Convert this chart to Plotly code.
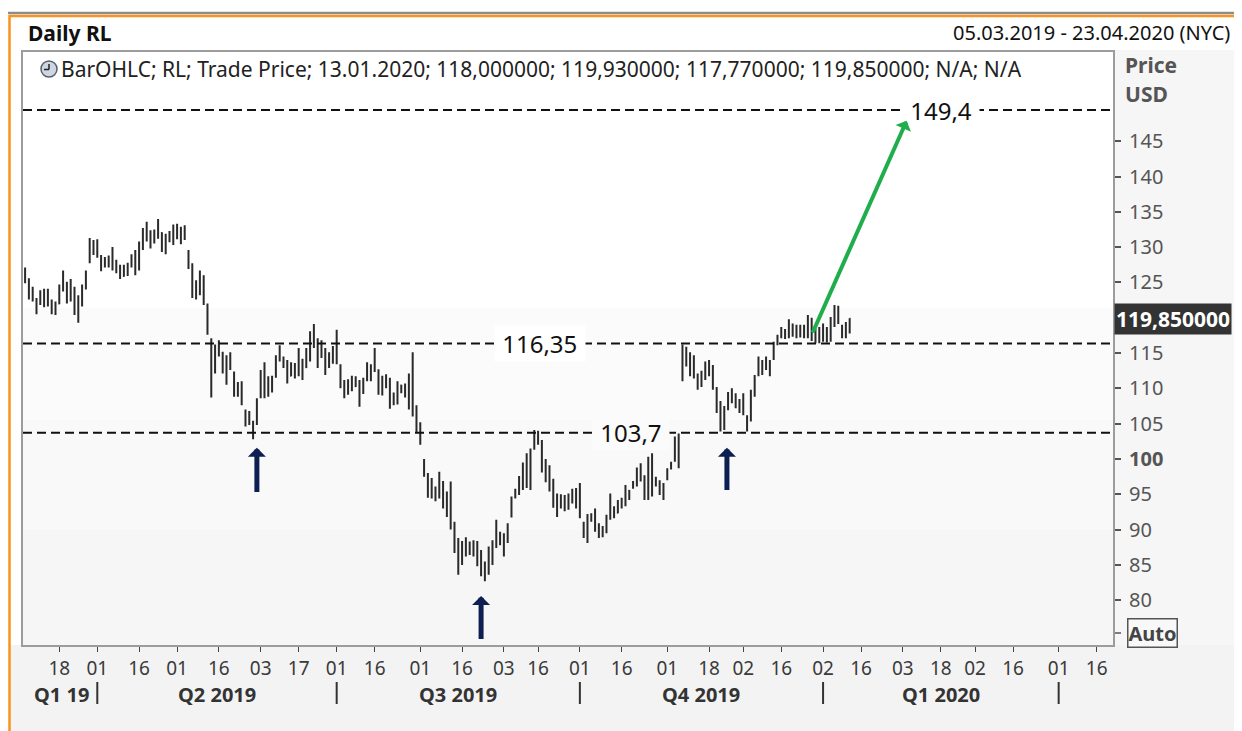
import pandas as pd
import plotly.graph_objects as go

# ---------------- data ----------------
HOLIDAYS = ['2019-04-19', '2019-05-27', '2019-07-04', '2019-09-02', '2019-11-28',
            '2019-12-25', '2020-01-01', '2020-01-20', '2020-02-17', '2020-04-10']
trading_days = [d for d in pd.bdate_range('2019-03-05', '2020-04-23')
                if d.strftime('%Y-%m-%d') not in HOLIDAYS]
N_BARS = 218
dates = [d.strftime('%Y-%m-%d') for d in trading_days[:N_BARS]]

opens = [126.8,125.3,123.1,122.5,122.0,123.6,122.1,122.4,121.0,122.0,
         124.2,124.8,122.6,124.0,121.2,122.9,124.6,128.0,130.8,129.4,
         128.7,127.4,128.3,127.4,127.9,126.4,125.9,127.0,127.3,128.6,
         129.1,130.2,132.5,131.0,131.8,131.4,132.0,129.5,131.2,130.8,
         132.7,131.6,132.5,129.4,127.0,123.2,125.0,123.8,121.8,116.5,
         112.4,115.5,114.8,112.6,113.8,112.0,109.3,110.6,106.8,105.1,
         105.0,105.0,108.9,112.0,109.2,111.2,111.8,114.5,114.3,113.5,
         111.8,113.2,112.0,114.0,113.0,114.2,117.8,116.5,114.5,115.5,
         113.1,114.6,117.8,113.0,110.8,109.3,110.8,110.3,111.0,109.5,
         111.3,113.2,112.5,112.4,109.4,111.6,110.5,107.8,108.8,110.4,
         109.5,110.6,114.5,107.0,104.5,99.6,97.6,95.0,95.8,94.8,
         96.5,93.6,95.2,90.8,87.5,85.3,87.6,86.8,87.6,86.8,
         85.5,85.2,83.8,87.0,87.6,89.4,88.4,88.5,92.0,94.6,
         95.3,97.0,99.2,96.8,101.6,103.5,102.2,99.0,97.5,96.8,
         93.4,94.5,93.2,94.6,93.9,95.3,96.2,90.8,89.0,91.6,
         91.3,90.3,89.1,90.0,91.9,93.0,92.4,93.6,94.0,95.5,
         96.0,96.5,98.4,97.4,94.8,100.2,96.3,96.8,95.0,97.2,
         98.7,99.8,102.5,115.8,113.5,114.8,112.0,111.8,110.4,111.6,
         113.6,112.8,109.8,107.5,104.4,107.2,109.2,108.2,108.2,106.8,
         105.9,105.5,109.2,111.9,113.8,112.8,113.8,114.3,116.4,117.4,
         118.2,117.5,119.0,117.6,118.6,117.4,118.9,119.6,117.1,118.0,
         116.9,118.4,117.0,119.9,121.2,118.8,117.5,118.0]

highs = [127.1,125.6,124.4,122.8,123.9,124.1,124.1,122.6,122.3,124.7,
         126.7,125.1,125.5,124.4,123.2,124.7,126.7,131.3,131.0,131.1,
         128.9,128.6,128.8,130.0,128.2,127.5,127.5,127.8,129.0,129.6,
         130.8,132.7,133.6,132.4,132.5,134.0,132.1,131.9,132.3,133.2,
         133.3,132.9,133.1,129.6,127.7,125.3,126.7,126.0,122.0,117.1,
         116.2,116.8,115.2,114.7,115.1,112.4,110.9,111.0,107.0,106.8,
         105.4,108.6,112.6,113.7,111.7,111.8,114.7,116.1,114.5,114.0,
         113.7,113.6,115.7,114.2,115.7,118.1,119.1,117.1,116.8,115.7,
         115.1,116.0,118.3,113.4,111.2,111.3,111.8,111.7,111.2,111.5,
         113.7,113.4,115.7,112.7,111.8,112.0,111.5,109.4,111.0,110.5,
         110.7,112.1,115.1,107.6,105.2,100.0,98.0,97.3,96.1,98.2,
         96.9,95.4,96.8,91.1,88.8,88.4,88.9,88.3,88.5,88.4,
         87.1,85.5,87.6,88.5,91.4,89.7,89.5,90.9,94.7,95.8,
         97.6,99.5,100.8,101.5,104.1,104.0,102.7,100.0,99.1,97.2,
         95.1,95.0,94.9,95.1,95.8,95.9,96.6,91.1,92.2,92.3,
         93.0,90.9,90.5,92.1,95.1,93.3,94.2,94.5,96.3,95.6,
         96.9,98.8,99.4,97.7,100.3,100.8,97.5,97.0,96.6,98.7,
         99.6,103.2,103.6,116.2,115.9,115.1,114.7,112.1,112.5,113.8,
         114.0,113.3,110.2,108.2,107.5,109.5,110.0,109.3,108.5,109.3,
         106.2,109.8,111.9,114.5,114.0,114.5,114.0,116.6,117.6,118.7,
         118.4,119.8,119.2,119.0,119.0,119.0,120.4,120.0,118.5,118.7,
         119.2,118.7,120.1,121.8,121.7,119.0,119.4,119.93]

lows = [124.9,122.6,122.3,120.5,121.8,121.5,121.6,120.5,120.4,121.9,
        123.7,122.0,122.3,120.4,119.3,121.6,124.0,127.7,128.9,128.5,
        126.6,127.1,127.1,126.7,126.3,125.5,125.8,125.9,127.1,126.0,
        126.7,129.6,130.8,129.8,130.5,131.2,129.3,129.0,130.7,130.3,
        131.1,130.4,131.0,126.9,122.8,122.6,123.2,121.8,117.6,108.7,
        112.1,114.5,112.1,110.5,112.6,108.8,108.8,107.6,104.6,104.8,
        102.8,104.8,108.6,108.6,108.8,109.4,111.5,113.8,112.9,110.7,
        111.7,111.4,111.7,111.2,112.9,113.8,115.7,112.9,114.3,111.9,
        112.9,113.5,113.4,110.0,108.6,109.1,109.6,110.2,107.4,109.2,
        111.0,111.0,112.3,109.1,109.0,110.0,107.1,107.6,107.7,109.3,
        108.7,107.0,106.0,103.8,102.0,97.5,94.5,94.4,94.0,94.4,
        93.0,91.8,90.0,86.7,83.6,85.0,86.2,86.4,86.2,84.8,
        83.4,82.7,83.6,85.0,87.4,87.8,86.2,88.1,91.7,94.4,
        94.9,95.6,95.9,95.6,101.3,102.0,98.1,96.7,95.4,93.1,
        91.8,93.0,92.6,92.8,93.7,93.0,91.6,88.8,88.1,91.1,
        89.7,88.8,88.9,89.5,91.4,91.6,92.3,93.0,93.3,94.2,
        95.8,96.1,96.8,94.2,94.2,94.7,96.1,94.9,94.2,97.0,
        98.5,99.6,98.7,111.0,113.1,111.7,111.4,109.8,110.2,111.2,
        111.7,109.8,106.5,103.9,104.1,106.9,107.9,107.2,106.5,106.2,
        103.9,105.3,108.8,111.7,111.9,112.6,111.7,114.0,116.1,117.1,
        117.0,117.1,117.3,117.1,117.2,117.1,117.1,116.7,116.4,116.4,
        116.6,116.5,116.6,118.7,119.1,117.1,117.1,117.77]

closes = [125.2,123.0,123.9,121.0,123.5,122.0,123.8,120.9,121.9,124.4,
          126.2,122.5,125.0,121.0,122.8,124.5,126.4,131.0,129.3,130.6,
          127.0,128.2,127.5,129.6,126.5,125.8,127.2,126.2,128.8,129.3,
          130.5,132.4,131.2,132.0,130.8,133.6,129.6,131.5,130.9,132.9,
          131.5,132.4,131.3,127.2,123.3,124.9,123.6,122.2,118.0,109.5,
          115.8,114.9,112.5,113.9,112.9,109.2,110.5,108.0,105.0,106.3,
          103.3,108.3,112.2,109.0,111.3,109.8,114.4,115.0,113.2,111.1,
          113.3,111.8,115.3,111.6,115.5,117.6,116.2,113.4,116.3,112.3,
          114.8,115.6,114.0,110.4,109.0,110.9,110.0,111.4,107.8,111.2,
          113.4,111.4,114.2,109.5,111.5,110.3,107.6,109.0,110.7,109.6,
          110.4,111.8,106.8,104.3,102.6,97.9,95.0,96.8,94.4,97.8,
          93.5,95.0,90.6,87.2,84.3,87.9,86.6,87.9,86.6,85.2,
          86.6,83.1,87.2,85.5,90.9,88.2,89.0,90.5,94.4,95.5,
          97.3,99.0,96.5,101.2,103.6,102.3,98.6,97.2,98.6,93.6,
          94.7,93.4,94.5,93.2,95.5,93.5,92.0,89.2,91.8,91.4,
          90.1,89.2,90.2,91.8,94.8,92.0,93.9,94.2,96.0,94.5,
          96.6,98.5,97.2,94.6,99.8,95.2,97.2,95.3,96.3,98.4,
          99.4,102.8,103.1,111.6,115.4,112.2,114.3,110.2,112.1,113.4,
          112.0,110.2,107.0,104.3,107.0,109.1,108.3,109.0,106.8,108.9,
          104.4,109.4,111.5,114.2,112.3,114.1,112.1,116.2,117.3,118.5,
          117.3,119.4,117.6,118.7,117.5,118.8,120.0,117.0,118.2,116.8,
          118.9,116.9,119.8,121.4,119.5,117.4,119.0,119.85]

levels = [149.4, 116.35, 103.7]
level_labels = ['149,4', '116,35', '103,7']
last_price_label = '119,850000'

y_tickvals = [80, 85, 90, 95, 100, 105, 110, 115, 125, 130, 135, 140, 145]
y_ticktext = ['80', '85', '90', '95', '<b>100</b>', '105', '110', '115',
              '125', '130', '135', '140', '145']

x_tickdates = ['2019-03-18', '2019-04-01', '2019-04-16', '2019-05-01', '2019-05-16',
               '2019-06-03', '2019-06-17', '2019-07-01', '2019-07-16', '2019-08-01',
               '2019-08-16', '2019-09-03', '2019-09-16', '2019-10-01', '2019-10-16',
               '2019-11-01', '2019-11-18', '2019-12-02', '2019-12-16', '2020-01-02',
               '2020-01-16', '2020-02-03', '2020-02-18', '2020-03-02', '2020-03-16',
               '2020-04-01', '2020-04-16']
x_ticktext = ['18', '01', '16', '01', '16', '03', '17', '01', '16', '01', '16', '03',
              '16', '01', '16', '01', '18', '02', '16', '02', '16', '03', '18', '02',
              '16', '01', '16']

quarter_names = ['Q1 19', 'Q2 2019', 'Q3 2019', 'Q4 2019', 'Q1 2020']
quarter_starts = ['2019-03-05', '2019-04-01', '2019-07-01', '2019-10-01', '2020-01-02', '2020-04-01']

legend_text = ('BarOHLC; RL; Trade Price; 13.01.2020; 118,000000; 119,930000; '
               '117,770000; 119,850000; N/A; N/A')

# ---------------- helpers ----------------
FONT = 'Noto Sans'
W, H = 1242, 731                 # window size
OFF = 8                          # page body margin of the html page
X0, X1, Y0, Y1 = 23, 1113, 52, 645          # plot area in window pixels
Y_RANGE = [73.66, 157.63]


def xp(px):
    return (px - X0) / (X1 - X0)


def yp(py):
    return (Y1 - py) / (Y1 - Y0)


def day_at(i):
    base = trading_days[int(i)]
    return (base + pd.Timedelta(days=i - int(i))).strftime('%Y-%m-%d %H:%M')


def idx(date_str):
    return [d.strftime('%Y-%m-%d') for d in trading_days].index(date_str)


fig = go.Figure()
fig.add_trace(go.Ohlc(
    x=dates, open=opens, high=highs, low=lows, close=closes,
    increasing=dict(line=dict(color='#2a2a2a', width=2)),
    decreasing=dict(line=dict(color='#2a2a2a', width=2)),
    tickwidth=0.25, hoverinfo='skip', showlegend=False))

shapes = []
# outer background pieces
shapes.append(dict(type='rect', xref='paper', yref='paper', x0=xp(10), x1=xp(W + 5),
                   y0=yp(H + 5), y1=yp(Y1), fillcolor='#f3f3f3', line_width=0, layer='below'))
shapes.append(dict(type='rect', xref='paper', yref='paper', x0=xp(X1), x1=xp(W + 5),
                   y0=yp(Y1), y1=yp(Y0 - 2), fillcolor='#f6f6f6', line_width=0, layer='below'))
# window frame lines
shapes.append(dict(type='line', xref='paper', yref='paper', x0=xp(7), x1=xp(W + 5),
                   y0=yp(13), y1=yp(13), line=dict(color='#8c8c8c', width=2.5), layer='below'))
shapes.append(dict(type='line', xref='paper', yref='paper', x0=xp(9), x1=xp(W + 5),
                   y0=yp(16), y1=yp(16), line=dict(color='#f7931e', width=2.5), layer='below'))
shapes.append(dict(type='line', xref='paper', yref='paper', x0=xp(9.5), x1=xp(9.5),
                   y0=yp(15), y1=yp(H + 5), line=dict(color='#f7931e', width=2.5), layer='below'))
# plot-area background bands (light gradient)
bands = [(308, 420, '#fbfbfb'), (420, 530, '#f9f9f9'), (530, Y1, '#f6f6f6')]
for top, bot, col in bands:
    shapes.append(dict(type='rect', xref='paper', yref='paper', x0=0, x1=1,
                       y0=yp(bot), y1=yp(top), fillcolor=col, line_width=0, layer='below'))

# dashed level lines
for lv in levels:
    shapes.append(dict(type='line', xref='paper', yref='y', x0=0, x1=1, y0=lv, y1=lv,
                       line=dict(color='#111111', width=2, dash='9px,5px')))

# quarter separators below the axis
for qs in quarter_starts[1:]:
    shapes.append(dict(type='line', xref='x', yref='paper', x0=qs, x1=qs,
                       y0=yp(682), y1=yp(704), line=dict(color='#333333', width=2)))

# clock icon of the legend
shapes.append(dict(type='circle', xref='paper', yref='paper', x0=xp(41), x1=xp(57),
                   y0=yp(77), y1=yp(61), fillcolor='#cdd6e2', line=dict(color='#59606b', width=1.5)))
shapes.append(dict(type='line', xref='paper', yref='paper', x0=xp(49), x1=xp(49),
                   y0=yp(69.5), y1=yp(64), line=dict(color='#222', width=1.5)))
shapes.append(dict(type='line', xref='paper', yref='paper', x0=xp(49), x1=xp(44),
                   y0=yp(69.5), y1=yp(69.5), line=dict(color='#222', width=1.5)))
# "Auto" tick
shapes.append(dict(type='line', xref='paper', yref='paper', x0=xp(X1 + 2), x1=xp(X1 + 8),
                   y0=yp(633), y1=yp(633), line=dict(color='#555', width=1.5)))

ann = []
ann.append(dict(xref='paper', yref='paper', x=xp(26), y=yp(33), xanchor='left', yanchor='middle',
                text='<b>Daily RL</b>', showarrow=False, font=dict(family=FONT, size=21, color='#111')))
ann.append(dict(xref='paper', yref='paper', x=xp(1232), y=yp(33), xanchor='right', yanchor='middle',
                text='05.03.2019 - 23.04.2020 (NYC)', showarrow=False,
                font=dict(family=FONT, size=20, color='#111')))
ann.append(dict(xref='paper', yref='paper', x=xp(59), y=yp(69), xanchor='left', yanchor='middle',
                text=legend_text, showarrow=False, font=dict(family=FONT, size=21, color='#222')))
ann.append(dict(xref='paper', yref='paper', x=xp(1123), y=yp(65), xanchor='left', yanchor='middle',
                text='<b>Price</b>', showarrow=False, font=dict(family=FONT, size=21, color='#555')))
ann.append(dict(xref='paper', yref='paper', x=xp(1123), y=yp(94), xanchor='left', yanchor='middle',
                text='<b>USD</b>', showarrow=False, font=dict(family=FONT, size=21, color='#555')))

# level labels
label_pos = [241, 135.5, 159.5]
label_bg = ['#ffffff', '#ffffff', '#fbfbfb']
for lv, txt, pos, bg in zip(levels, level_labels, label_pos, label_bg):
    ann.append(dict(x=day_at(pos), y=lv, xref='x', yref='y', text='\u00a0' + txt + '\u00a0',
                    showarrow=False, xanchor='center', yanchor='middle', bgcolor=bg, borderpad=1,
                    font=dict(family=FONT, size=24, color='#111')))

# last price marker on the axis
ann.append(dict(xref='paper', yref='y', x=xp(X1 + 1), y=closes[-1], xanchor='left', yanchor='middle',
                text='<b>' + last_price_label + '</b>', showarrow=False, bgcolor='#333333',
                borderpad=1, font=dict(family=FONT, size=21, color='#ffffff')))
# "Auto" box
ann.append(dict(xref='paper', yref='paper', x=xp(1127), y=yp(633), xanchor='left', yanchor='middle',
                text='<b>Auto</b>', showarrow=False, bgcolor='#f8f8f8', bordercolor='#555',
                borderwidth=1.5, borderpad=0, font=dict(family=FONT, size=20, color='#444')))

# quarter labels
for name, a, b in zip(quarter_names, quarter_starts[:-1], quarter_starts[1:]):
    mid = (idx(a) + idx(b)) / 2
    ann.append(dict(x=day_at(mid), y=yp(694), xref='x', yref='paper', text='<b>' + name + '</b>',
                    showarrow=False, xanchor='center', yanchor='middle', borderpad=0,
                    font=dict(family=FONT, size=20, color='#333')))

# navy arrows (tip at the lows)
navy = [(61, 101.6, 95.1), (120, 80.6, 74.3), (184.7, 101.6, 95.4)]
for i, tip, tail in navy:
    ann.append(dict(x=day_at(i), y=tip, ax=day_at(i), ay=tail, xref='x', yref='y', axref='x', ayref='y',
                    text='', showarrow=True, arrowhead=1, arrowwidth=5, arrowsize=0.6,
                    arrowcolor='#0d1f52', standoff=0))
# green projection arrow
ann.append(dict(x=day_at(232), y=147.9, ax=day_at(207.1), ay=117.7, xref='x', yref='y',
                axref='x', ayref='y', text='', showarrow=True, arrowhead=1, arrowwidth=4,
                arrowsize=0.7, arrowcolor='#1fae4b', standoff=0))

fig.update_layout(
    width=W - OFF, height=H - OFF,
    margin=dict(l=X0 - OFF, r=W - X1, t=Y0 - OFF, b=H - Y1, pad=0),
    paper_bgcolor='#ffffff', plot_bgcolor='#ffffff',
    shapes=shapes, annotations=ann, showlegend=False,
    font=dict(family=FONT, color='#333'),
)
fig.update_xaxes(
    type='date', range=[day_at(-0.55), day_at(286.3)],
    rangebreaks=[dict(bounds=['sat', 'mon']), dict(values=HOLIDAYS)],
    rangeslider=dict(visible=False),
    tickvals=x_tickdates, ticktext=x_ticktext, ticks='outside', ticklen=5, tickwidth=1,
    tickcolor='#444', tickfont=dict(family=FONT, size=19, color='#3a3a3a'),
    showgrid=False, zeroline=False, showline=True, linecolor='#9c9c9c', linewidth=1.5, mirror=True,
)
fig.update_yaxes(
    range=Y_RANGE, side='right', tickvals=y_tickvals, ticktext=y_ticktext,
    ticks='outside', ticklen=6, tickwidth=1.5, tickcolor='#555', ticklabelstandoff=4,
    tickfont=dict(family=FONT, size=20, color='#555'),
    showgrid=False, zeroline=False, showline=True, linecolor='#9c9c9c', linewidth=2, mirror=True,
)

fig.write_html('out.html')
